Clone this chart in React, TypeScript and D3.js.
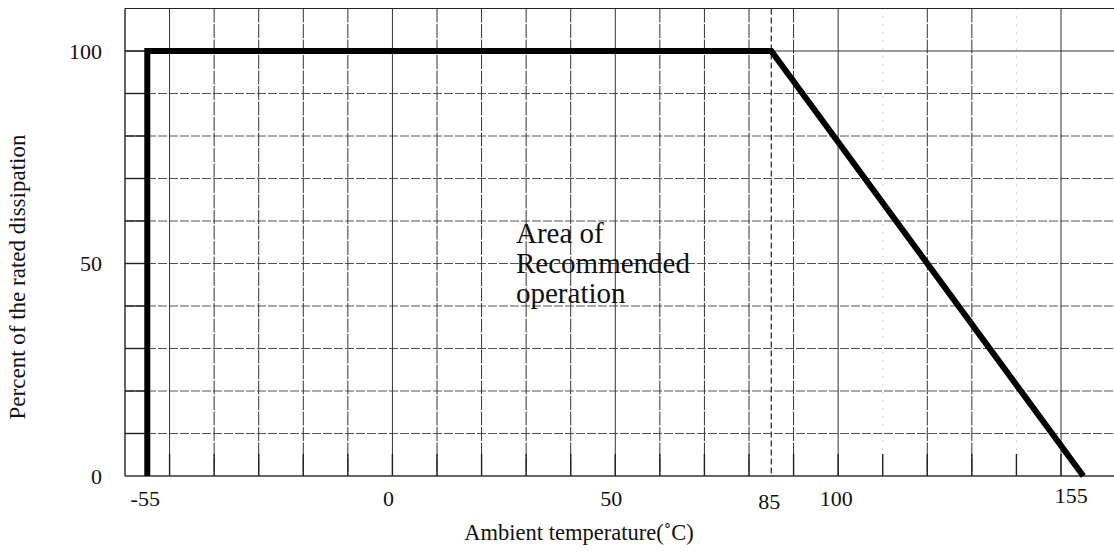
import React from "react";
import * as d3 from "d3";

const curveTemps = [-55, -55, 85, 155];
const curvePercents = [0, 100, 100, 0];
const xTickLabels = [-55, 0, 50, 85, 100, 155];
const yTickLabels = [0, 50, 100];
const xGridValues = [-50, -40, -30, -20, -10, 0, 10, 20, 30, 40, 50, 60, 70, 80, 90, 100, 110, 120, 130, 140, 150];
const faintXGrid = [110, 140];
const yGridValues = [10, 20, 30, 40, 50, 60, 70, 80, 90, 100];
const annotationLines = ["Area of", "Recommended", "operation"];

const W = 1114;
const H = 552;

export default function App() {
  const x = d3.scaleLinear().domain([-60, 150]).range([125, 1061]);
  const y = d3.scaleLinear().domain([0, 110]).range([476, 8.5]);
  const x0 = x(-60);
  const xEnd = 1114;
  const yTop = y(110);
  const yBot = y(0);

  const pts: [number, number][] = curveTemps.map((t, i) => [t, curvePercents[i]]);
  const line = d3
    .line<[number, number]>()
    .x((d) => x(d[0]))
    .y((d) => y(d[1]));

  const font = "'Liberation Serif', 'Times New Roman', serif";
  const labelDx: Record<number, number> = { [-55]: -2, 0: -4, 50: -4, 85: -2, 100: -2, 155: -12 };
  const labelDy: Record<number, number> = { 85: 3, 155: -3 };

  return (
    <svg
      width={W}
      height={H}
      style={{ position: "absolute", left: 0, top: 0, background: "#fff" }}
    >
      <rect x={0} y={0} width={W} height={H} fill="#fff" />
      {yGridValues.map((v) => (
        <line
          key={"h" + v}
          x1={x0}
          x2={xEnd}
          y1={y(v)}
          y2={y(v)}
          stroke={v === 100 ? "#333" : "#555"}
          strokeWidth={1}
          strokeDasharray={v === 100 ? undefined : "9 2"}
        />
      ))}
      {xGridValues.map((v) => {
        const faint = faintXGrid.includes(v);
        return (
          <g key={"v" + v}>
            <line
              x1={x(v)}
              x2={x(v)}
              y1={yTop}
              y2={yBot}
              stroke={faint ? "#aaa" : "#333"}
              strokeWidth={1}
              strokeDasharray={faint ? "1 7" : v % 50 === 0 ? undefined : "14 1.5"}
            />
            <line x1={x(v)} x2={x(v)} y1={yBot - 22} y2={yBot} stroke="#222" strokeWidth={1.4} />
          </g>
        );
      })}
      <line
        x1={x(85)}
        x2={x(85)}
        y1={yTop}
        y2={yBot}
        stroke="#222"
        strokeWidth={1.2}
        strokeDasharray="6 3"
      />
      {yGridValues.map((v) => (
        <line key={"lt" + v} x1={x0} x2={x0 + 20} y1={y(v)} y2={y(v)} stroke="#222" strokeWidth={1.4} />
      ))}
      <line x1={x0} x2={xEnd} y1={yTop} y2={yTop} stroke="#222" strokeWidth={1.2} />
      <line x1={x0} x2={x0} y1={yTop} y2={yBot} stroke="#222" strokeWidth={1.4} />
      <line x1={x0} x2={xEnd} y1={yBot} y2={yBot} stroke="#333" strokeWidth={1.6} />

      <path
        d={line(pts) || ""}
        fill="none"
        stroke="#000"
        strokeWidth={6}
        strokeLinejoin="miter"
        strokeLinecap="butt"
      />

      {yTickLabels.map((v) => (
        <text
          key={"yl" + v}
          x={102}
          y={y(v)}
          dy="0.35em"
          textAnchor="end"
          fontFamily={font}
          fontSize={22}
          fill="#111"
        >
          {v}
        </text>
      ))}
      {xTickLabels.map((v) => (
        <text
          key={"xl" + v}
          x={x(v) + (labelDx[v] || 0)}
          y={506 + (labelDy[v] || 0)}
          textAnchor="middle"
          fontFamily={font}
          fontSize={22}
          fill="#111"
        >
          {v}
        </text>
      ))}

      <text x={579} y={540} textAnchor="middle" fontFamily={font} fontSize={22.5} fill="#111">
        Ambient temperature(˚C)
      </text>
      <text
        transform="translate(25,277) rotate(-90)"
        textAnchor="middle"
        fontFamily={font}
        fontSize={23}
        fill="#111"
      >
        Percent of the rated dissipation
      </text>

      {annotationLines.map((s, i) => (
        <text key={"a" + i} x={516} y={243 + i * 30} fontFamily={font} fontSize={29} fill="#111">
          {s}
        </text>
      ))}
    </svg>
  );
}
